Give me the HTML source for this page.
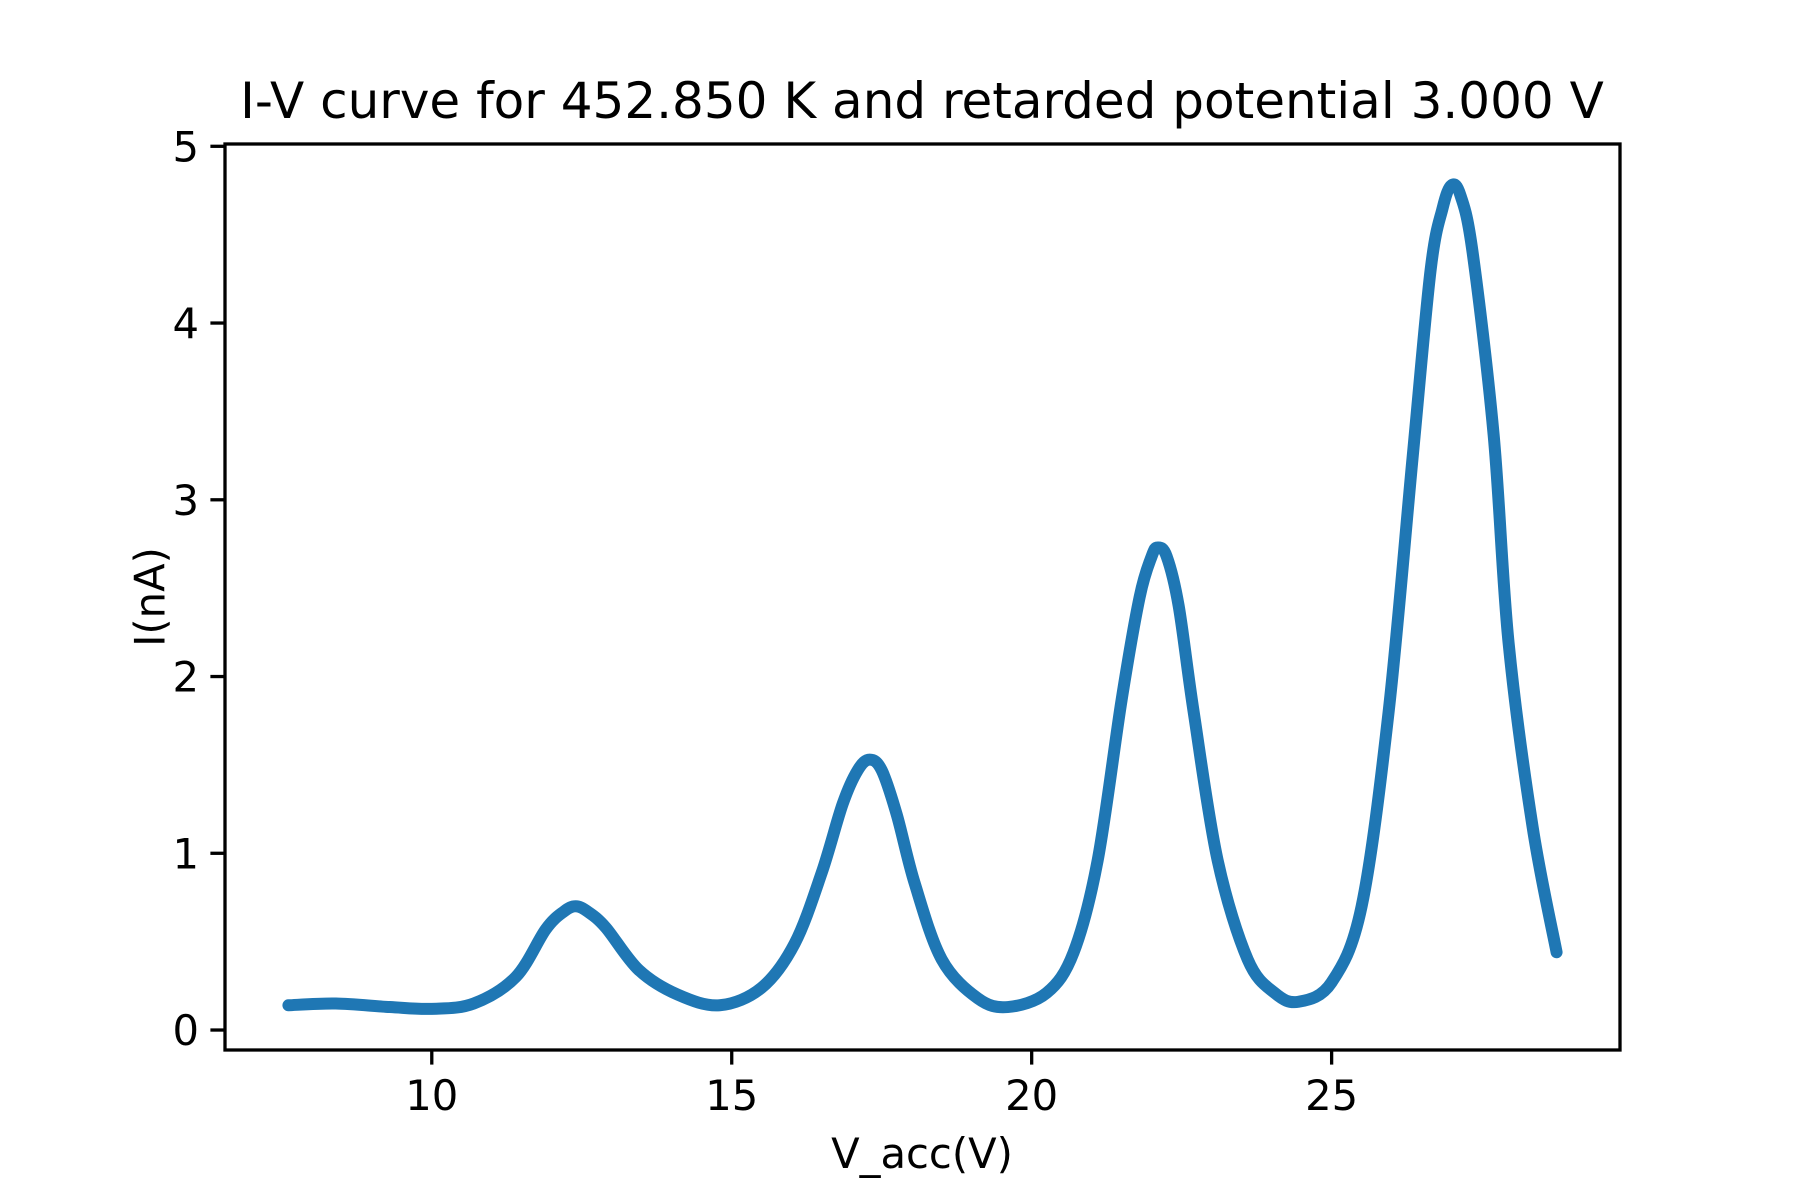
<!DOCTYPE html>
<html><head><meta charset="utf-8"><style>html,body{margin:0;padding:0;background:#fff}svg{display:block}text{font-family:"DejaVu Sans","Liberation Sans",sans-serif;fill:#000}</style></head>
<body>
<svg id="chart" width="1800" height="1200" viewBox="0 0 1800 1200" xmlns="http://www.w3.org/2000/svg">
<rect width="1800" height="1200" fill="#fff"/>
<text x="922" y="118" font-size="50" text-anchor="middle">I-V curve for 452.850 K and retarded potential 3.000 V</text>
<text x="922" y="1168" font-size="41.7" text-anchor="middle">V_acc(V)</text>
<text transform="translate(150,597) rotate(-90)" font-size="41.7" text-anchor="middle" dominant-baseline="central">I(nA)</text>
<g id="plot"></g>
</svg>
<script>
const vAcc=[7.61,8.4,9.3,10,10.7,11.4,11.9,12.2,12.4,12.6,12.9,13.45,14.1,14.8,15.5,16.05,16.5,16.85,17.1,17.3,17.5,17.75,18.05,18.5,19.1,19.6,20.25,20.7,21.1,21.5,21.8,22.0,22.1,22.25,22.45,22.7,23.1,23.6,24.05,24.45,25.0,25.5,25.95,26.35,26.65,26.85,27.0,27.15,27.35,27.7,27.95,28.35,28.75];
const current=[0.14,0.15,0.13,0.12,0.15,0.30,0.57,0.67,0.70,0.67,0.58,0.34,0.20,0.14,0.24,0.49,0.89,1.28,1.47,1.53,1.47,1.22,0.83,0.40,0.18,0.13,0.21,0.44,0.96,1.87,2.45,2.68,2.73,2.68,2.40,1.80,0.96,0.40,0.21,0.16,0.27,0.70,1.80,3.24,4.30,4.65,4.78,4.72,4.40,3.37,2.19,1.15,0.44];
const xTicks=[10,15,20,25];
const yTicks=[0,1,2,3,4,5];
const L=225,R=1620,T=144,B=1050;
const xmin=Math.min(...vAcc),xmax=Math.max(...vAcc),ymin=Math.min(...current),ymax=Math.max(...current);
const x0=xmin-(xmax-xmin)*0.05,x1=xmax+(xmax-xmin)*0.05,y0=ymin-(ymax-ymin)*0.05,y1=ymax+(ymax-ymin)*0.05;
const sx=v=>L+(v-x0)/(x1-x0)*(R-L);
const sy=v=>B-(v-y0)/(y1-y0)*(B-T);
const NS="http://www.w3.org/2000/svg";
const g=document.getElementById('plot');
function mk(t,a){const e=document.createElementNS(NS,t);for(const k in a)e.setAttribute(k,a[k]);g.appendChild(e);return e;}
const P=vAcc.map((v,i)=>[sx(v),sy(current[i])]);
let d=`M${P[0][0]},${P[0][1]}`;
for(let i=0;i<P.length-1;i++){const p0=P[i-1]||P[i],p1=P[i],p2=P[i+1],p3=P[i+2]||P[i+1];
d+=` C${p1[0]+(p2[0]-p0[0])/6},${p1[1]+(p2[1]-p0[1])/6} ${p2[0]-(p3[0]-p1[0])/6},${p2[1]-(p3[1]-p1[1])/6} ${p2[0]},${p2[1]}`;}
const line=mk('path',{d:d,fill:'none',stroke:'#1f77b4','stroke-width':12,'stroke-linejoin':'round','stroke-linecap':'round'});


const frame=mk('rect',{x:L,y:T,width:R-L,height:B-T,fill:'none',stroke:'#000','stroke-width':3.3});


xTicks.forEach(v=>{const x=sx(v);
const t=mk('line',{x1:x,x2:x,y1:B,y2:B+14.6,stroke:'#000','stroke-width':3.3});


const l=mk('text',{x:x,y:B+60,'font-size':41.7,'text-anchor':'middle'});l.textContent=v;

});
yTicks.forEach(v=>{const y=sy(v);
const t=mk('line',{x1:L-14.6,x2:L,y1:y,y2:y,stroke:'#000','stroke-width':3.3});


const l=mk('text',{x:L-26,y:y+15,'font-size':41.7,'text-anchor':'end'});l.textContent=v;

});
</script>
</body></html>
